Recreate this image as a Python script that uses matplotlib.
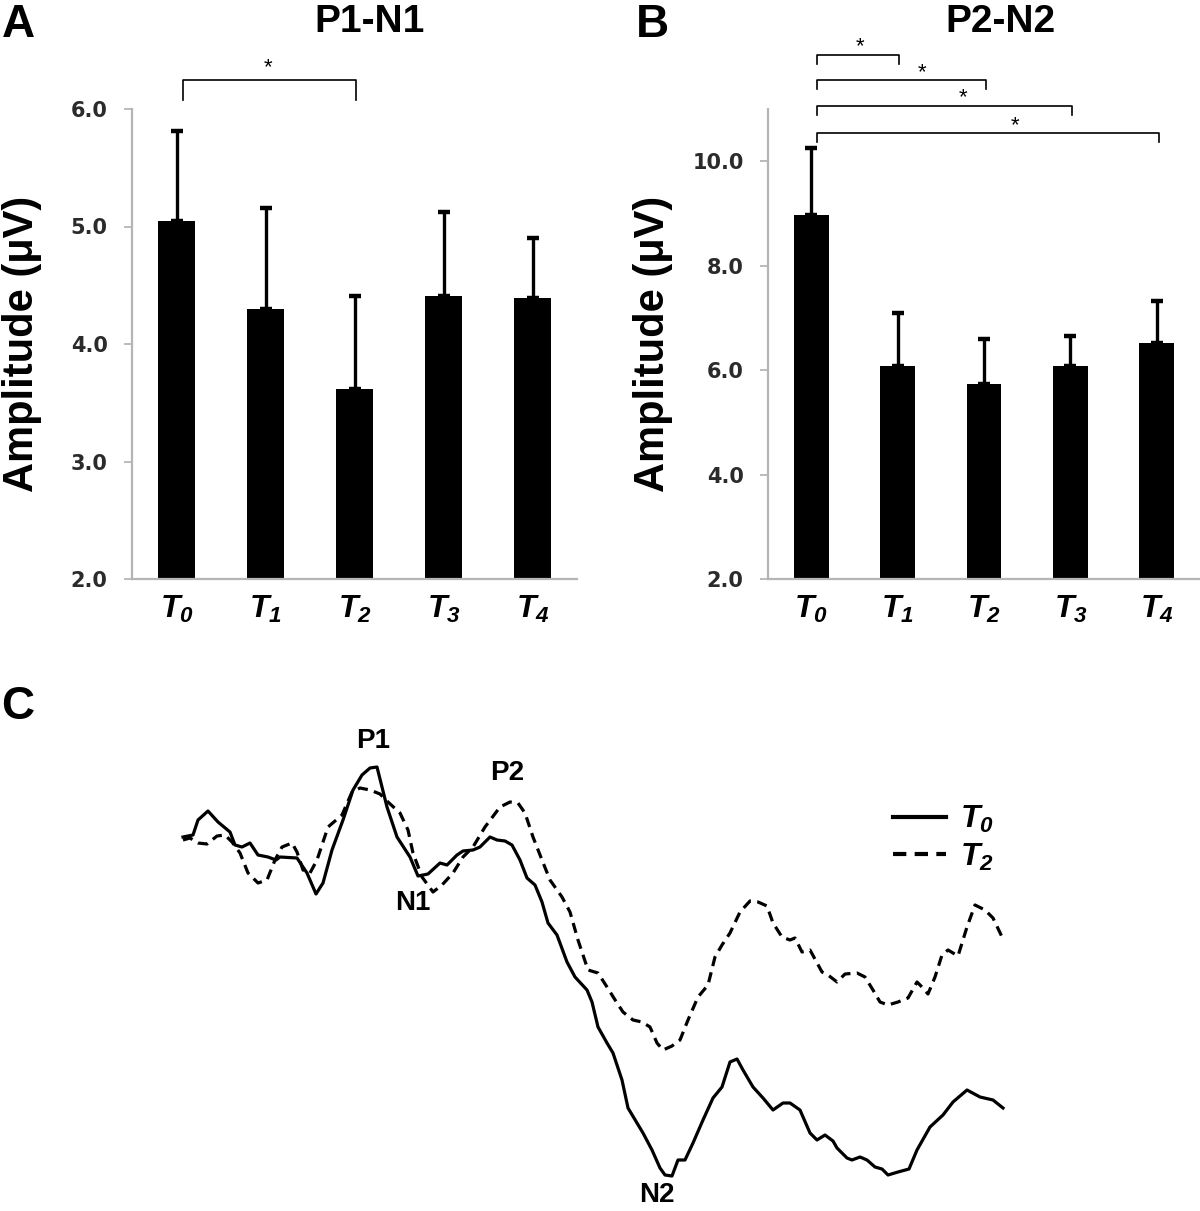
import numpy as np
import matplotlib.pyplot as plt

plt.rcParams['font.family'] = ['Liberation Sans', 'DejaVu Sans']
plt.rcParams['mathtext.fontset'] = 'custom'
plt.rcParams['mathtext.rm'] = 'Liberation Sans:italic:bold'
plt.rcParams['mathtext.it'] = 'Liberation Sans:italic:bold'

# session labels
tick_labels = [r'$T_{0}$', r'$T_{1}$', r'$T_{2}$', r'$T_{3}$', r'$T_{4}$']

# panel A: P1-N1 amplitude (mean and top of error bar)
p1n1_mean = np.array([5.05, 4.30, 3.62, 4.41, 4.39])
p1n1_upper = np.array([5.81, 5.16, 4.41, 5.12, 4.90])

# panel B: P2-N2 amplitude
p2n2_mean = np.array([8.97, 6.08, 5.73, 6.07, 6.51])
p2n2_upper = np.array([10.26, 7.09, 6.60, 6.66, 7.33])

# significance brackets: (from, to, height)
a_brackets = [(0, 2, 6.25)]
b_brackets = [(0, 1, 12.04), (0, 2, 11.55), (0, 3, 11.06), (0, 4, 10.54)]
a_star_x = [1.03]
b_star_x = [0.57, 1.28, 1.76, 2.36]

# panel C: grand average waveforms (traced, arbitrary units, y grows downward)
t0_x = [183, 193, 198, 208, 218, 230, 235, 242, 250, 258, 268, 276, 280, 297, 307, 316, 323, 332,
        343, 353, 362, 370, 377, 387, 397, 410, 418, 428, 440, 447, 457, 463, 473, 480, 490, 497,
        505, 512, 520, 527, 535, 542, 548, 557, 567, 575, 587, 592, 598, 607, 613, 622, 628, 637,
        643, 652, 660, 665, 672, 678, 685, 693, 703, 713, 722, 730, 737, 743, 753, 763, 773, 783,
        790, 800, 810, 817, 825, 833, 837, 847, 852, 860, 867, 875, 882, 888, 898, 909, 917, 930,
        943, 953, 967, 980, 993, 1003]
t0_y = [837, 835, 820, 811, 822, 832, 845, 847, 843, 855, 857, 860, 857, 858, 873, 894, 883, 850,
        820, 790, 775, 768, 767, 807, 837, 857, 876, 874, 863, 865, 855, 851, 850, 847, 837, 840,
        841, 845, 860, 878, 885, 902, 923, 935, 962, 977, 990, 1002, 1027, 1043, 1053, 1080, 1108, 1123,
        1133, 1150, 1168, 1175, 1176, 1160, 1160, 1143, 1120, 1098, 1087, 1062, 1059, 1070, 1087, 1098, 1110, 1103,
        1103, 1110, 1133, 1140, 1135, 1141, 1148, 1158, 1160, 1157, 1160, 1167, 1169, 1175, 1172, 1169, 1150, 1127,
        1115, 1102, 1090, 1097, 1100, 1108]

t2_x = [183, 190, 198, 207, 217, 225, 232, 240, 248, 258, 267, 275, 282, 292, 297, 303, 310, 317,
        328, 342, 352, 360, 370, 380, 388, 400, 408, 413, 422, 433, 442, 453, 463, 473, 485, 500,
        510, 518, 525, 533, 542, 550, 562, 570, 578, 588, 598, 607, 617, 623, 633, 642, 650, 657,
        663, 672, 680, 688, 698, 708, 715, 722, 730, 740, 750, 758, 767, 773, 782, 790, 795, 802,
        810, 822, 828, 837, 845, 857, 865, 873, 880, 888, 898, 908, 917, 922, 928, 935, 942, 948,
        958, 967, 975, 985, 993, 1003]
t2_y = [840, 838, 843, 844, 836, 835, 842, 853, 873, 883, 880, 860, 847, 843, 852, 870, 873, 860,
        827, 815, 792, 788, 790, 794, 802, 813, 830, 853, 877, 892, 885, 873, 857, 847, 827, 807,
        802, 803, 813, 837, 860, 880, 897, 912, 940, 970, 973, 987, 1003, 1012, 1020, 1022, 1027, 1043,
        1050, 1046, 1040, 1020, 997, 985, 957, 945, 933, 912, 901, 902, 906, 923, 937, 940, 938, 952,
        950, 972, 975, 982, 974, 973, 977, 990, 1002, 1005, 1002, 998, 982, 987, 994, 977, 955, 950,
        956, 927, 905, 910, 918, 939]

peak_names = ['P1', 'N1', 'P2', 'N2']
peak_x = [373, 413, 507, 657]
peak_y = [741, 903, 773, 1195]

fig = plt.figure(figsize=(12, 12.11), dpi=100)

ax_a = fig.add_axes([132 / 1200, 1 - 579 / 1211, 445 / 1200, 470 / 1211])
ax_b = fig.add_axes([768 / 1200, 1 - 579 / 1211, 432 / 1200, 470 / 1211])


def bar_panel(ax, means, upper, ylim, yticks, brackets, star_x, leg, star_dy):
    x = np.arange(len(means))
    ax.bar(x, means, width=0.405, color='black')
    ax.errorbar(x, means, yerr=[np.zeros(len(means)), upper - means], fmt='none',
                ecolor='black', elinewidth=2.4, capsize=4.5, capthick=3.2)
    ax.set_xlim(-0.5, len(means) - 0.5)
    ax.set_ylim(*ylim)
    ax.set_yticks(yticks)
    ax.set_yticklabels(['%.1f' % v for v in yticks], family='DejaVu Sans', fontweight='bold')
    ax.set_xticks(x)
    ax.set_xticklabels(tick_labels)
    for s in ['top', 'right']:
        ax.spines[s].set_visible(False)
    for s in ['left', 'bottom']:
        ax.spines[s].set_color('#b5b5b5')
        ax.spines[s].set_linewidth(1.6)
    ax.tick_params(axis='y', colors='#b5b5b5', length=5.5, width=1.3, pad=12,
                   labelsize=15, labelcolor='#2b2b2b')
    ax.tick_params(axis='x', length=0, pad=11, labelsize=23)
    ax.set_ylabel('Amplitude (μV)', fontsize=30, fontweight='bold')
    for (i, j, h), sx in zip(brackets, star_x):
        xl, xr = i + 0.07, j + 0.02
        ax.plot([xl, xl, xr, xr], [h - leg, h, h, h - leg], color='black', lw=1.2,
                clip_on=False)
        ax.text(sx, h + star_dy, '*', ha='center', va='center', fontsize=16, clip_on=False)


bar_panel(ax_a, p1n1_mean, p1n1_upper, (2.0, 6.0), [2.0, 3.0, 4.0, 5.0, 6.0],
          a_brackets, a_star_x, 0.17, 0.1)
bar_panel(ax_b, p2n2_mean, p2n2_upper, (2.0, 11.0), [2.0, 4.0, 6.0, 8.0, 10.0],
          b_brackets, b_star_x, 0.17, 0.15)
ax_a.yaxis.set_label_coords(-0.202, 0.5)
ax_b.yaxis.set_label_coords(-0.22, 0.5)

fig.text(370 / 1200, 1 - 22 / 1211, 'P1-N1', ha='center', va='center', fontsize=28, fontweight='bold')
fig.text(1000 / 1200, 1 - 22 / 1211, 'P2-N2', ha='center', va='center', fontsize=28, fontweight='bold')
for lab, px, py in [('A', 18, 25), ('B', 652, 25), ('C', 18, 707)]:
    fig.text(px / 1200, 1 - py / 1211, lab, ha='center', va='center', fontsize=33, fontweight='bold')

# panel C
ax_c = fig.add_axes([0, 0, 1, 1 - 640 / 1211])
ax_c.plot(t0_x, t0_y, color='black', lw=2.3, label=r'$T_{0}$')
ax_c.plot(t2_x, t2_y, color='black', lw=2.3, dashes=(3.2, 2.0), label=r'$T_{2}$')
ax_c.set_xlim(0, 1200)
ax_c.set_ylim(1211, 640)
ax_c.axis('off')
for name, px, py in zip(peak_names, peak_x, peak_y):
    ax_c.text(px, py, name, ha='center', va='center', fontsize=20, fontweight='bold')
leg = ax_c.legend(loc='upper left', bbox_to_anchor=(893 / 1200, (1211 - 804) / 571), frameon=False,
                  fontsize=23, handlelength=1.65, handletextpad=0.45, labelspacing=0.2,
                  borderpad=0, borderaxespad=0)
for h in leg.get_lines():
    h.set_linewidth(3.0)

fig.savefig('out.png', dpi=100)
